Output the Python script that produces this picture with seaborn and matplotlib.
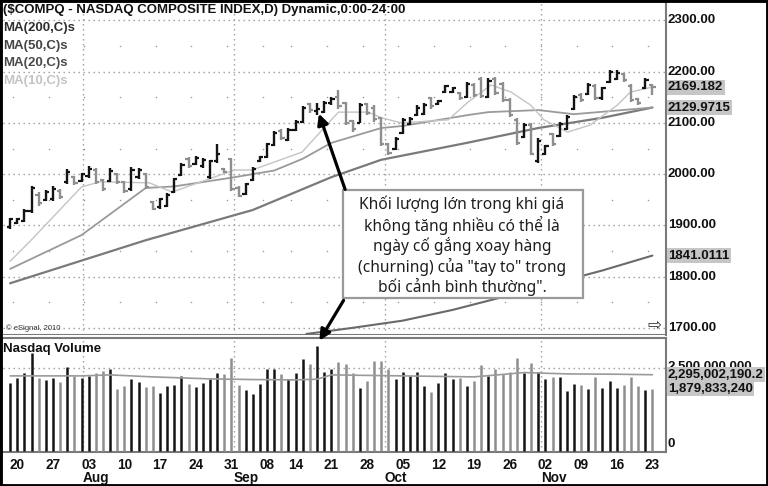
import numpy as np
import pandas as pd
import matplotlib
matplotlib.use("Agg")
import matplotlib.pyplot as plt
from matplotlib.transforms import blended_transform_factory
from matplotlib.patches import Rectangle
import seaborn as sns

# daily bars, trading day 0 = Jul 19 2010 ... 90 = Nov 23 2010
opens = [1896, 1905, 1908, 1928, 1960, 1950, 1952, 1968, 1984, 1995,
         1986, 1996, 2008, 1988, 1986, 2000, 1985, 1970, 1995, 2001,
         1945, 1935, 1938, 1966, 1998, 2030, 2020, 2015, 1994, 2025,
         2010, 2030, 1972, 1962, 1988, 2025, 2034, 2056, 2085, 2066,
         2086, 2102, 2136, 2124, 2122, 2138, 2150, 2138, 2104, 2100,
         2136, 2130, 2110, 2058, 2050, 2080, 2098, 2115, 2118, 2148,
         2136, 2160, 2160, 2158, 2150, 2174, 2185, 2150, 2186, 2176,
         2145, 2105, 2072, 2095, 2025, 2040, 2078, 2075, 2088, 2128,
         2155, 2156, 2172, 2148, 2180, 2186, 2195, 2172, 2146, 2168,
         2174]
highs = [1915, 1915, 1932, 1977, 1966, 1969, 1976, 1971, 2010, 1997,
         2003, 2015, 2011, 1990, 2011, 2003, 1987, 2013, 2011, 2003,
         1948, 1954, 1964, 1993, 2022, 2034, 2035, 2032, 2028, 2058,
         2012, 2032, 1976, 1983, 2014, 2036, 2061, 2084, 2088, 2090,
         2106, 2133, 2139, 2139, 2142, 2150, 2164, 2141, 2106, 2138,
         2139, 2135, 2112, 2061, 2072, 2109, 2111, 2135, 2138, 2151,
         2145, 2174, 2171, 2161, 2180, 2177, 2190, 2187, 2190, 2180,
         2148, 2109, 2099, 2099, 2070, 2057, 2080, 2102, 2115, 2154,
         2158, 2177, 2175, 2171, 2203, 2203, 2197, 2175, 2149, 2187,
         2176]
lows = [1893, 1902, 1906, 1925, 1938, 1948, 1948, 1951, 1980, 1979,
        1984, 1993, 1980, 1967, 1984, 1980, 1964, 1967, 1990, 1971,
        1929, 1932, 1935, 1963, 1996, 2012, 2017, 2012, 1991, 2022,
        2002, 1967, 1955, 1960, 1986, 2023, 2032, 2054, 2067, 2064,
        2084, 2100, 2120, 2116, 2120, 2135, 2128, 2096, 2083, 2099,
        2115, 2102, 2055, 2037, 2047, 2078, 2096, 2113, 2115, 2128,
        2135, 2158, 2158, 2145, 2148, 2151, 2148, 2148, 2154, 2141,
        2112, 2057, 2070, 2037, 2021, 2037, 2054, 2073, 2086, 2125,
        2141, 2154, 2145, 2145, 2177, 2184, 2180, 2141, 2135, 2167,
        2154]
closes = [1912, 1913, 1928, 1972, 1944, 1965, 1970, 1955, 2005, 1982,
          2000, 2010, 1984, 1970, 2006, 1985, 1968, 2008, 2009, 1975,
          1932, 1951, 1960, 1990, 2018, 2015, 2032, 2028, 2025, 2040,
          2004, 1970, 1958, 1980, 2010, 2034, 2058, 2080, 2070, 2086,
          2102, 2130, 2125, 2128, 2139, 2146, 2132, 2100, 2088, 2135,
          2120, 2108, 2058, 2042, 2068, 2105, 2108, 2130, 2135, 2132,
          2143, 2172, 2168, 2148, 2176, 2155, 2152, 2182, 2158, 2145,
          2115, 2060, 2095, 2040, 2065, 2054, 2058, 2098, 2112, 2150,
          2145, 2173, 2148, 2168, 2200, 2198, 2184, 2145, 2138, 2184,
          2169.18]
# volume in billions of shares
volumes = [2.06, 2.21, 2.36, 2.96, 2.21, 2.14, 2.21, 2.08, 2.54, 2.26,
           2.19, 2.26, 2.36, 2.41, 2.48, 1.86, 1.96, 2.16, 2.08, 1.93,
           1.95, 1.74, 1.95, 1.99, 2.26, 2.03, 1.92, 2.06, 2.16, 2.36,
           2.33, 2.81, 1.99, 1.84, 1.72, 2.03, 2.48, 2.46, 2.33, 2.16,
           2.36, 2.76, 2.61, 3.16, 2.38, 2.48, 2.69, 2.61, 2.36, 1.91,
           2.11, 2.71, 2.71, 2.48, 2.18, 2.39, 2.26, 2.39, 1.96, 1.78,
           2.06, 2.36, 2.18, 2.21, 1.96, 2.11, 2.58, 2.26, 2.48, 2.33,
           2.39, 2.79, 2.34, 2.66, 2.39, 2.18, 2.23, 2.23, 1.81, 2.03,
           1.99, 1.88, 2.23, 1.91, 2.11, 1.91, 1.99, 2.23, 1.96, 1.84,
           1.88]

# moving averages (day index, value)
ma10_day = [0, 3, 10, 12.6, 19.5, 22.7, 31.4, 33.9, 36.7, 40.9, 44.1, 46, 50.2,
            52, 54.8, 61.4, 64.2, 67.4, 70.2, 72.9, 74.8, 78.1, 81.3, 85.1, 86.9, 90]
ma10_val = [1830, 1872, 1975, 1985, 1983, 1965, 2008, 2008, 2022, 2043, 2092, 2121, 2121,
            2110, 2100, 2106, 2141, 2174, 2160, 2135, 2106, 2082, 2096, 2135, 2160, 2170]
ma20_day = [0, 10, 19, 23, 31, 37, 41, 45, 52, 55, 64, 67, 74, 79, 90]
ma20_val = [1815, 1881, 1973, 1976, 1993, 2007, 2030, 2061, 2090, 2094, 2115, 2121, 2125, 2117, 2130]
ma50_day = [0, 19, 34, 45, 52, 64, 74, 83, 90]
ma50_val = [1787, 1871, 1930, 1994, 2028, 2061, 2090, 2110, 2130]
ma200_day = [41.5, 48, 55, 62, 69, 76, 83, 90]
ma200_val = [1688, 1700, 1714, 1735, 1760, 1786, 1812, 1841]
volma_day = [0, 10, 14, 20, 28, 34, 40, 43, 45, 55, 65, 72, 78, 85, 90]
volma_val = [2.26, 2.26, 2.29, 2.23, 2.17, 2.15, 2.14, 2.16, 2.29, 2.26, 2.23, 2.36, 2.32, 2.31, 2.295]

tick_day = [1, 6, 11, 16, 21, 26, 31, 36, 40, 45, 50, 55, 60, 65, 70, 75, 80, 85, 90]
tick_labels = ["20", "27", "03", "10", "17", "24", "31", "08", "14", "21", "28",
               "05", "12", "19", "26", "02", "09", "16", "23"]
month_day = [10.2, 31.3, 52.5, 74.4]
month_labels = ["Aug", "Sep", "Oct", "Nov"]

note = ("Khối lượng lớn trong khi giá\nkhông tăng nhiều có thể là\n"
        "ngày cố gắng xoay hàng\n(churning) của \"tay to\" trong\n"
        "bối cảnh bình thường\".")

sns.set_theme(style="white")
plt.rcParams["font.family"] = ["Liberation Sans", "DejaVu Sans"]

df = pd.DataFrame({"open": opens, "high": highs, "low": lows,
                   "close": closes, "vol": np.array(volumes) * 1e9})
df["day"] = np.arange(len(df))
BLACK, GREY = "#141414", "#8e8e8e"
df["color"] = np.where(df["close"] >= df["open"], BLACK, GREY)

W, H = 768, 486
fig = plt.figure(figsize=(W / 100, H / 100), dpi=100)
ax = fig.add_axes([3 / W, 1 - 335 / H, 663 / W, 332 / H])
axv = fig.add_axes([3 / W, 1 - 452 / H, 663 / W, 114 / H])

dot = (0, (1, 2.6))
gcol = "#9a9a9a"
for a in (ax, axv):
    a.set_xlim(-1, 91.9)
    for s in ("left", "top", "bottom"):
        a.spines[s].set_visible(False)
    a.spines["right"].set_color("#7a7a7a")
    a.spines["right"].set_linewidth(1.5)
    for m in month_day:
        a.axvline(m, color=gcol, lw=1, ls=dot, zorder=0)

# price pane
ax.set_ylim(1686, 2334)
for lvl in range(1700, 2301, 100):
    ax.axhline(lvl, color=gcol, lw=1, ls=dot, zorder=0)
wx = np.array(tick_day) - 0.6
for lvl in range(1750, 2301, 50):
    if lvl % 100:
        ax.scatter(wx, [lvl] * len(wx), s=1.2, color=gcol, zorder=0, linewidths=0)
ax.axhline(1686, color="#7a7a7a", lw=1.5)

ax.vlines(df["day"], df["low"], df["high"], colors=df["color"], lw=1.7, zorder=3)
ax.hlines(df["open"], df["day"] - 0.45, df["day"], colors=df["color"], lw=1.6, zorder=3)
ax.hlines(df["close"], df["day"], df["day"] + 0.45, colors=df["color"], lw=1.6, zorder=3)

sns.lineplot(x=ma200_day, y=ma200_val, ax=ax, color="#6a6a6a", lw=1.5, zorder=2)
sns.lineplot(x=ma50_day, y=ma50_val, ax=ax, color="#7a7a7a", lw=1.6, zorder=2)
sns.lineplot(x=ma20_day, y=ma20_val, ax=ax, color="#9a9a9a", lw=1.3, zorder=2)
sns.lineplot(x=ma10_day, y=ma10_val, ax=ax, color="#c4c4c4", lw=1.0, zorder=2)

ax.set_xticks([])
ax.set_yticks([])
yt = blended_transform_factory(ax.transAxes, ax.transData)
for lvl in range(1700, 2301, 100):
    ax.text(1.003, lvl, f"{lvl:.2f}", transform=yt, ha="left", va="center",
            fontsize=9.5, fontweight="bold", color="#111")
box = dict(facecolor="#c6c6c6", edgecolor="none", pad=1.0)
ax.text(1.003, closes[-1], "2169.182", transform=yt, ha="left", va="center",
        fontsize=9.5, fontweight="bold", color="#111", bbox=box)
ax.text(1.003, ma50_val[-1], "2129.9715", transform=yt, ha="left", va="center",
        fontsize=9.5, fontweight="bold", color="#111", bbox=box)
ax.text(1.003, ma200_val[-1], "1841.0111", transform=yt, ha="left", va="center",
        fontsize=9.5, fontweight="bold", color="#111", bbox=box)

ax.text(0.0, 0.997, "($COMPQ - NASDAQ COMPOSITE INDEX,D) Dynamic,0:00-24:00",
        transform=ax.transAxes, ha="left", va="top", fontsize=9.5, fontweight="bold", color="#111")
legend_items = [("MA(200,C)s", "#2e2e2e"), ("MA(50,C)s", "#444444"),
                ("MA(20,C)s", "#4a4a4a"), ("MA(10,C)s", "#c4c4c4")]
for i, (lab, c) in enumerate(legend_items):
    ax.text(0.0, 0.924 - i * 0.0525, lab, transform=ax.transAxes, ha="left", va="center",
            fontsize=9.5, fontweight="bold", color=c)
ax.text(0.004, 0.022, "© eSignal, 2010", transform=ax.transAxes, ha="left", va="center",
        fontsize=5.5, color="#333")
ax.text(0.982, 0.03, "⇨", transform=ax.transAxes, ha="center", va="center",
        fontsize=12, color="#333", family="DejaVu Sans")

# volume pane
axv.set_ylim(-0.03e9, 3.40e9)
axv.axhline(2.5e9, color=gcol, lw=1, ls=dot, zorder=0)
for s in ("top", "bottom"):
    axv.spines[s].set_visible(True)
    axv.spines[s].set_color("#7a7a7a")
    axv.spines[s].set_linewidth(1.5)
axv.vlines(df["day"], 0, df["vol"], colors=df["color"], lw=1.8, zorder=3)
sns.lineplot(x=volma_day, y=np.array(volma_val) * 1e9, ax=axv, color="#9a9a9a", lw=1.2, zorder=4)
axv.set_yticks([])
axv.set_ylabel("")
axv.set_xticks(tick_day)
axv.set_xticklabels(tick_labels, fontsize=9.8, fontweight="bold", color="#111")
axv.tick_params(axis="x", length=0, pad=4)
for m, lab in zip(month_day, month_labels):
    axv.text(m, -0.225, lab, transform=blended_transform_factory(axv.transData, axv.transAxes),
             ha="left", va="center", fontsize=9.8, fontweight="bold", color="#111")
axv.text(0.0, 0.9, "Nasdaq Volume", transform=axv.transAxes, ha="left", va="center",
         fontsize=9.5, fontweight="bold", color="#111", zorder=5)
vt = blended_transform_factory(axv.transAxes, axv.transData)
axv.text(1.003, 2.52e9, "2,500,000,000", transform=vt, ha="left", va="center",
         fontsize=9.5, fontweight="bold", color="#111")
axv.text(1.003, 2.295e9, "2,295,002,190.2", transform=vt, ha="left", va="center",
         fontsize=9.5, fontweight="bold", color="#111", bbox=box)
axv.text(1.003, volumes[-1] * 1e9, "1,879,833,240", transform=vt, ha="left", va="center",
         fontsize=9.5, fontweight="bold", color="#111", bbox=box)
axv.text(1.003, 0.2e9, "0", transform=vt, ha="left", va="center",
         fontsize=9.5, fontweight="bold", color="#111")

# overlay: annotation box, arrows, frame (pixel coordinates)
ov = fig.add_axes([0, 0, 1, 1], zorder=10)
ov.set_xlim(0, W)
ov.set_ylim(H, 0)
ov.axis("off")
ov.patch.set_alpha(0)
ov.add_patch(Rectangle((343, 190), 240, 108, facecolor="white", edgecolor="#9a9a9a", lw=1.6))
ov.text(462, 246, note, ha="center", va="center", fontsize=11.2, linespacing=1.18,
        color="#1e1e1e", family=["Noto Sans", "DejaVu Sans"])
ov.annotate("", xy=(318, 111), xytext=(346, 192),
            arrowprops=dict(arrowstyle="-|>", color="black", lw=2.3, mutation_scale=16))
ov.annotate("", xy=(318, 343), xytext=(345, 298),
            arrowprops=dict(arrowstyle="-|>", color="black", lw=2.3, mutation_scale=16))
ov.add_patch(Rectangle((0, 0), W, H, facecolor="none", edgecolor="black", lw=3.5))

fig.savefig("out.png", dpi=100)
